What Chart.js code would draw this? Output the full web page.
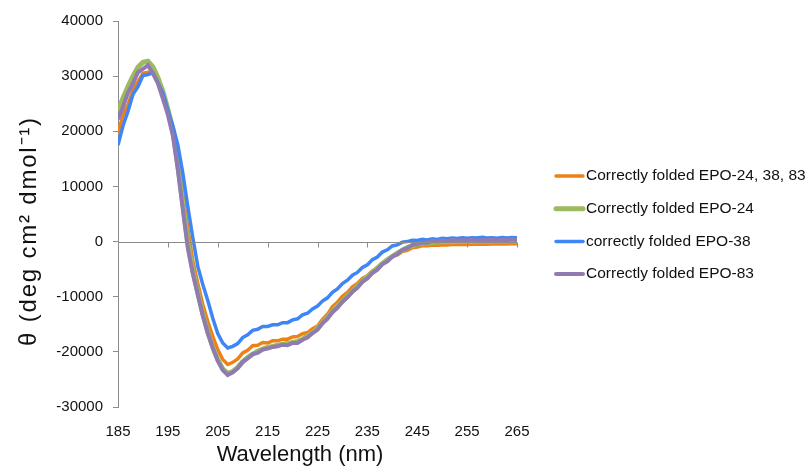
<!DOCTYPE html>
<html>
<head>
<meta charset="utf-8">
<script src="https://cdn.jsdelivr.net/npm/chart.js@4/dist/chart.umd.min.js"></script>
<style>
  html, body { margin: 0; padding: 0; background: #ffffff; }
  #wrap { width: 808px; height: 470px; position: relative; }
</style>
</head>
<body>
<div id="wrap"><canvas id="cd"></canvas></div>
<script>
// CD spectra of EPO variants: wavelength (nm) vs mean residue ellipticity
const wavelengths = [
  185, 186, 187, 188, 189, 190, 191, 192, 193, 194,
  195, 196, 197, 198, 199, 200, 201, 202, 203, 204,
  205, 206, 207, 208, 209, 210, 211, 212, 213, 214,
  215, 216, 217, 218, 219, 220, 221, 222, 223, 224,
  225, 226, 227, 228, 229, 230, 231, 232, 233, 234,
  235, 236, 237, 238, 239, 240, 241, 242, 243, 244,
  245, 246, 247, 248, 249, 250, 251, 252, 253, 254,
  255, 256, 257, 258, 259, 260, 261, 262, 263, 264,
  265
];

const epoAll = [
  19800, 22900, 24800, 27500, 29000, 30500, 30700, 30600, 29100, 27100,
  23800, 19900, 14600, 8600, 2400, -3500, -7600, -11400, -14500, -17200,
  -19600, -21400, -22300, -21900, -21300, -20200, -19700, -18900, -18800, -18300,
  -18400, -18000, -18000, -17700, -17700, -17300, -17200, -16700, -16500, -15800,
  -15300, -14100, -13200, -11800, -11000, -9900, -9200, -8200, -7600, -6700,
  -6200, -5300, -4800, -3900, -3500, -2700, -2400, -1800, -1600, -1100,
  -1000, -750, -750, -650, -650, -600, -600, -550, -550, -500,
  -550, -500, -500, -450, -500, -450, -450, -400, -450, -400,
  -400
];

const epo24 = [
  23800, 26000, 28100, 30000, 31600, 32500, 32700, 31700, 29700, 27200,
  24000, 20300, 14000, 6800, -300, -5300, -9300, -13100, -16400, -19100,
  -21400, -23100, -23900, -23600, -22800, -21800, -21000, -20400, -19900, -19500,
  -19200, -19000, -18800, -18600, -18500, -18300, -18100, -17700, -17100, -16500,
  -15700, -14700, -13700, -12700, -11700, -10800, -9900, -9000, -8100, -7200,
  -6400, -5600, -4800, -4000, -3300, -2700, -2100, -1600, -1100, -800,
  -500, -350, -250, -150, -100, -50, 0, -50, 50, 0,
  50, 0, 100, 50, 100, 50, 100, 150, 100, 150,
  100
];

const epo38 = [
  17500, 21000, 23600, 26700, 28100, 30100, 30300, 30600, 28800, 26900,
  23800, 21000, 17500, 12400, 6300, 700, -4500, -7800, -10700, -13900,
  -16700, -18400, -19300, -19000, -18500, -17400, -16900, -16100, -15900, -15400,
  -15400, -15100, -15100, -14700, -14700, -14200, -14000, -13300, -13000, -12200,
  -11700, -10800, -10200, -9200, -8600, -7600, -7000, -6100, -5600, -4700,
  -4200, -3300, -2800, -1900, -1500, -800, -600, -100, 0, 250,
  200, 400, 300, 500, 400, 600, 500, 650, 550, 700,
  600, 700, 650, 800, 650, 700, 600, 750, 650, 750,
  700
];

const epo83 = [
  22200, 24400, 27000, 28700, 30700, 31300, 32000, 30500, 28700, 25900,
  23000, 19200, 13000, 5800, -1200, -5800, -9600, -13400, -16600, -19300,
  -21600, -23300, -24200, -23700, -23000, -21800, -21200, -20400, -20200, -19600,
  -19400, -19100, -19000, -18700, -18800, -18400, -18400, -17800, -17400, -16600,
  -16000, -14800, -14000, -12800, -12000, -10900, -10100, -9100, -8400, -7300,
  -6700, -5700, -5100, -4100, -3600, -2700, -2300, -1500, -1200, -600,
  -500, -150, -200, 100, 0, 200, 100, 300, 150, 300,
  200, 350, 150, 300, 250, 350, 200, 350, 250, 400,
  300
];

const xTicks = [185, 195, 205, 215, 225, 235, 245, 255, 265];
const yTicks = [-30000, -20000, -10000, 0, 10000, 20000, 30000, 40000];

const seriesNames = [
  'Correctly folded EPO-24, 38, 83',
  'Correctly folded EPO-24',
  'correctly folded EPO-38',
  'Correctly folded EPO-83'
];
const seriesColors = ['#EF8114', '#9DBB5E', '#3E86F6', '#8F7BB2'];
const seriesWidths = [3.5, 5, 3.5, 4];
const seriesValues = [epoAll, epo24, epo38, epo83];

const axisGrey = '#8C8C8C';
const tickFont = { family: '"Liberation Sans", Arial, sans-serif', size: 15 };
const xTitleFont = '22px "Liberation Sans", Arial, sans-serif';
const yTitleFont = '24px "Liberation Sans", Arial, sans-serif';
const legendFont = '15.5px "Liberation Sans", Arial, sans-serif';

function toPoints(values) {
  return values.map((v, i) => ({ x: wavelengths[i], y: v }));
}

const datasets = seriesValues.map((vals, i) => ({
  label: seriesNames[i],
  data: toPoints(vals),
  borderColor: seriesColors[i],
  backgroundColor: seriesColors[i],
  borderWidth: seriesWidths[i],
  pointRadius: 0,
  tension: 0,
  fill: false,
  // later series paint over earlier ones
  order: seriesValues.length - 1 - i
}));

// horizontal axis line at zero with outward tick marks, axis titles and legend
const decorations = {
  id: 'decorations',
  afterDraw(chart) {
    const { ctx, chartArea, scales } = chart;
    const xs = scales.x, ys = scales.y;
    const y0 = Math.round(ys.getPixelForValue(0)) + 0.5;

    ctx.save();
    ctx.strokeStyle = axisGrey;
    ctx.lineWidth = 1;
    ctx.beginPath();
    ctx.moveTo(chartArea.left, y0);
    ctx.lineTo(chartArea.right, y0);
    xTicks.forEach(t => {
      const px = Math.round(xs.getPixelForValue(t)) + 0.5;
      ctx.moveTo(px, y0);
      ctx.lineTo(px, y0 + 5);
    });
    ctx.stroke();

    // axis titles
    ctx.fillStyle = '#111111';
    ctx.textAlign = 'center';
    ctx.textBaseline = 'middle';
    ctx.font = xTitleFont;
    ctx.fillText('Wavelength (nm)', 300, 455);

    ctx.save();
    ctx.font = yTitleFont;
    if ('letterSpacing' in ctx) ctx.letterSpacing = '1.8px';
    ctx.translate(29, 231);
    ctx.rotate(-Math.PI / 2);
    ctx.fillText('θ (deg cm² dmol⁻¹)', 0, 0);
    ctx.restore();

    // legend
    const legendTop = 176, legendStep = 32.7;
    ctx.font = legendFont;
    ctx.textAlign = 'left';
    ctx.textBaseline = 'middle';
    chart.data.datasets.forEach((ds, i) => {
      const ly = legendTop + i * legendStep;
      ctx.strokeStyle = ds.borderColor;
      ctx.lineWidth = ds.borderWidth;
      ctx.lineCap = 'round';
      ctx.beginPath();
      ctx.moveTo(556, ly);
      ctx.lineTo(583, ly);
      ctx.stroke();
      ctx.fillStyle = '#111111';
      ctx.fillText(ds.label, 586, ly);
    });
    ctx.restore();
  }
};

new Chart(document.getElementById('cd'), {
  type: 'line',
  data: { datasets },
  options: {
    responsive: true,
    maintainAspectRatio: false,
    animation: false,
    layout: { padding: { top: 21, right: 291, left: 0, bottom: 0 } },
    plugins: {
      legend: { display: false },
      tooltip: { enabled: false }
    },
    scales: {
      x: {
        type: 'linear',
        min: 185,
        max: 265,
        afterBuildTicks(scale) { scale.ticks = xTicks.map(v => ({ value: v })); },
        afterFit(scale) { scale.height = 63; },
        grid: { display: false },
        border: { display: false },
        ticks: { color: '#111111', font: tickFont, padding: 8, maxRotation: 0,
                 callback: v => String(v) }
      },
      y: {
        type: 'linear',
        min: -30000,
        max: 40000,
        afterBuildTicks(scale) { scale.ticks = yTicks.map(v => ({ value: v })); },
        afterFit(scale) { scale.width = 118; },
        grid: { drawOnChartArea: false, drawTicks: true, tickLength: 5, color: axisGrey },
        border: { display: true, color: axisGrey, width: 1 },
        ticks: { color: '#111111', font: tickFont, padding: 10,
                 callback: v => String(v) }
      }
    }
  },
  plugins: [decorations]
});
</script>
</body>
</html>
